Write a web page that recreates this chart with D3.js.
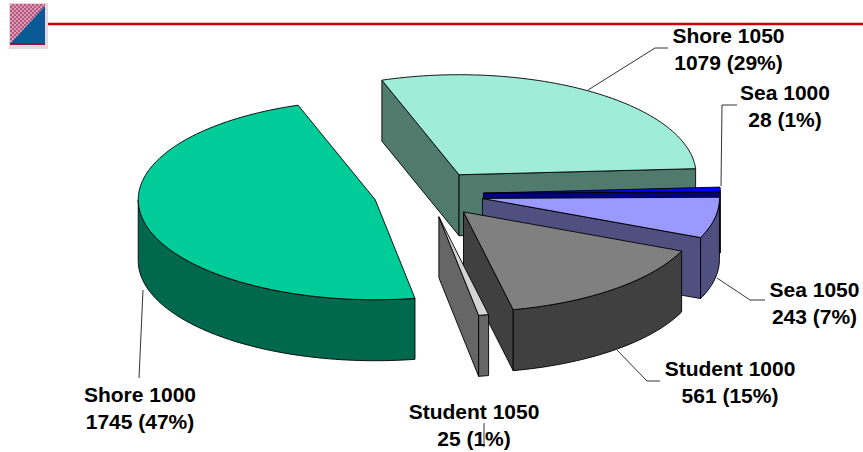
<!DOCTYPE html>
<html><head><meta charset="utf-8">
<script src="https://cdnjs.cloudflare.com/ajax/libs/d3/7.8.5/d3.min.js"></script>
<style>html,body{margin:0;padding:0;background:#fff}svg{display:block}
text{font-family:"Liberation Sans",Arial,sans-serif;font-weight:700;font-size:21px;fill:#000;text-anchor:middle}</style>
</head><body><svg id="c" width="863" height="452"></svg>
<script>
// Data
const categories = ["Shore 1050","Sea 1000","Sea 1050","Student 1000","Student 1050","Shore 1000"];
const values = [1079,28,243,561,25,1745];
const percents = [29,1,7,15,1,47];
const topColors = ["#9fecd8","#0000ff","#9999ff","#808080","#d4d4d4","#00cc99"];
const wallColors = ["#4f7a6c","#000080","#4f4f80","#404040","#666666","#00684c"];
// Layout
const cx=428.5, cy=194, rx=237, ry=100, depth=61, explode=0.232;
const labelCenters=[[728.5,43],[785,100],[814.5,297],[730,376],[474,419],[140,402]];
const leaders=[
 [[588,90],[655,48],[668,48]],
 [[721,186],[722,105],[737,105]],
 [[717,278],[750,300],[765,300]],
 [[617,350],[647,381],[660,381]],
 [[484,423],[484,447]],
 [[143,290],[139,378]]
];
const svg=d3.select("#c");
const defs=svg.append("defs");
const pat=defs.append("pattern").attr("id","hatch").attr("width",4).attr("height",4).attr("patternUnits","userSpaceOnUse");
pat.append("rect").attr("width",4).attr("height",4).attr("fill","#d99ab4");
pat.append("rect").attr("width",2).attr("height",2).attr("fill","#b85880");
pat.append("rect").attr("x",2).attr("y",2).attr("width",2).attr("height",2).attr("fill","#b85880");
// Header
svg.append("rect").attr("x",9).attr("y",3).attr("width",39).attr("height",46).attr("fill","#e6d8de");
svg.append("path").attr("d","M10 4H45V43H10Z").attr("fill","url(#hatch)");
svg.append("path").attr("d","M45 6V43H11Z").attr("fill","#0a5a96");
svg.append("path").attr("d","M10 44H45").attr("stroke","#8a1848").attr("stroke-width",2);
svg.append("line").attr("x1",48).attr("x2",863).attr("y1",24).attr("y2",24).attr("stroke","#cc0000").attr("stroke-width",2.4);

const deg=Math.PI/180;
const pie=d3.pie().sort(null).startAngle(341*deg).endAngle(341*deg+2*Math.PI);
const arcs=pie(values);
const line=d3.line();
const pt=(c,a,dy=0)=>[c[0]+rx*Math.sin(a), c[1]-ry*Math.cos(a)+dy];
const sample=(c,a0,a1,dy=0)=>{
  const n=Math.max(2,Math.ceil(Math.abs(a1-a0)/(deg*1.5)));
  return d3.range(n+1).map(i=>pt(c,a0+(a1-a0)*i/n,dy));
};
const g=svg.append("g");
arcs.forEach((d,i)=>{
  const mid=(d.startAngle+d.endAngle)/2;
  const c=[cx+explode*rx*Math.sin(mid), cy-explode*ry*Math.cos(mid)];
  const wallStyle=s=>s.attr("fill",wallColors[i]).attr("stroke","#000").attr("stroke-width",0.9).attr("stroke-linejoin","round");
  if(Math.sin(d.startAngle)<0){
    const p=pt(c,d.startAngle);
    g.append("path").attr("d",line([c,p,[p[0],p[1]+depth],[c[0],c[1]+depth]])+"Z").call(wallStyle);
  }
  if(Math.sin(d.endAngle)>0){
    const p=pt(c,d.endAngle);
    g.append("path").attr("d",line([c,p,[p[0],p[1]+depth],[c[0],c[1]+depth]])+"Z").call(wallStyle);
  }
  [0,1].forEach(k=>{
    const lo=Math.max(d.startAngle,(90*deg)+k*2*Math.PI), hi=Math.min(d.endAngle,(270*deg)+k*2*Math.PI);
    if(hi>lo){
      const up=sample(c,lo,hi), dn=sample(c,hi,lo,depth);
      g.append("path").attr("d",line(up.concat(dn))+"Z").call(wallStyle);
    }
  });
  g.append("path").attr("d",line([c].concat(sample(c,d.startAngle,d.endAngle)))+"Z")
    .attr("fill",topColors[i]).attr("stroke","#000").attr("stroke-width",0.9).attr("stroke-linejoin","round");
});
leaders.forEach(l=>svg.append("path").attr("d",line(l)).attr("fill","none").attr("stroke","#000").attr("stroke-width",0.8));
categories.forEach((name,i)=>{
  const [x,y]=labelCenters[i];
  svg.append("text").attr("x",x).attr("y",y).text(name);
  svg.append("text").attr("x",x).attr("y",y+27).text(`${values[i]} (${percents[i]}%)`);
});
</script></body></html>
